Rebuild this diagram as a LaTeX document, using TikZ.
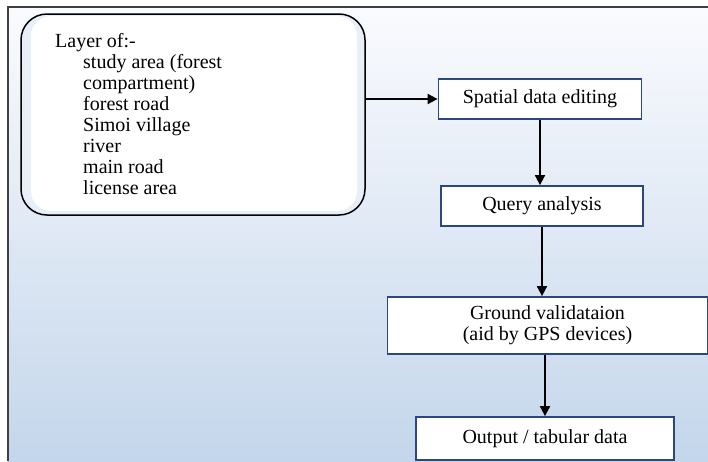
\documentclass[tikz,border=0pt]{standalone}
\usepackage{fontspec}
\setmainfont{Liberation Serif}
\usepackage{xcolor}
\usepackage{tikz}
\usetikzlibrary{arrows.meta}

\definecolor{boxline}{RGB}{44,70,128}
\definecolor{bgtop}{RGB}{250,251,254}
\definecolor{bgbottom}{RGB}{196,214,235}
\definecolor{shadowblue}{RGB}{232,239,248}

\begin{document}
\begin{tikzpicture}[x=1pt, y=-1pt,
    every node/.style={font=\fontsize{20}{21}\selectfont},
    stepbox/.style={rectangle, draw=boxline, line width=1.8pt, fill=white, align=center},
    arrow/.style={line width=1.8pt, -{Triangle[length=10pt, width=10pt]}}]
    \useasboundingbox (0,0) rectangle (708,461);
    % background and frame
    \shade[top color=bgtop, bottom color=bgbottom] (8,7) rectangle (708,461);
    \draw[line width=1.5pt, black!75] (8,461) -- (8,7) -- (708,7);

    % layer box
    \node[draw, line width=1.5pt, rounded corners=26pt, fill=shadowblue,
          minimum width=344pt, minimum height=201pt] (layerbox) at (193,114.5) {};
    \fill[white, rounded corners=20pt] (31,16) rectangle (357,211);
    \node[anchor=north west, align=left, inner sep=0pt] (layertext) at (55,33) {Layer of:-\\
        \hspace*{28pt}study area (forest\\
        \hspace*{28pt}compartment)\\
        \hspace*{28pt}forest road\\
        \hspace*{28pt}Simoi village\\
        \hspace*{28pt}river\\
        \hspace*{28pt}main road\\
        \hspace*{28pt}license area};

    % process steps
    \node[stepbox, minimum width=203pt, minimum height=40pt] (spatial) at (540,99) {Spatial data editing};
    \node[stepbox, minimum width=202pt, minimum height=40pt] (query) at (542,206) {Query analysis};
    \node[stepbox, minimum width=320pt, minimum height=57pt] (ground) at (547.5,325.5) {Ground validataion\\(aid by GPS devices)};
    \node[stepbox, minimum width=258pt, minimum height=43pt] (output) at (545,438.5) {Output / tabular data};

    % connectors
    \draw[arrow] (layerbox.east |- spatial.west) -- (spatial.west);
    \draw[arrow] (spatial.south) -- (spatial.south |- query.north);
    \draw[arrow] (query.south) -- (query.south |- ground.north);
    \draw[arrow] (output.north |- ground.south) -- (output.north);
\end{tikzpicture}
\end{document}
